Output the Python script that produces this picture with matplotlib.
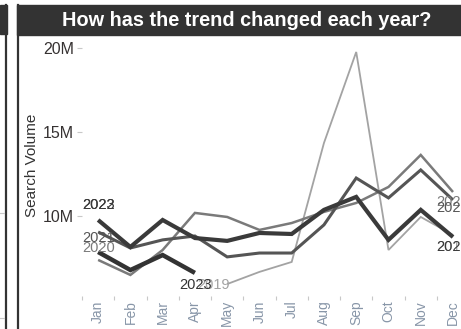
import numpy as np
import matplotlib
matplotlib.use("Agg")
import matplotlib.pyplot as plt
from matplotlib.patches import Rectangle
from matplotlib.lines import Line2D

plt.rcParams['font.family'] = ['Liberation Sans', 'DejaVu Sans']

months = ['Jan', 'Feb', 'Mar', 'Apr', 'May', 'Jun', 'Jul', 'Aug', 'Sep', 'Oct', 'Nov', 'Dec']

# monthly search volume, millions (2019 starts in May, 2023 stops in Apr)
vol_2019 = [None, None, None, None, 5.99, 6.71, 7.30, 14.36, 19.76, 8.01, 9.97, 8.90]
vol_2020 = [7.42, 6.53, 8.01, 10.21, 9.97, 9.20, 9.61, 10.27, 10.80, 11.75, 13.65, 11.45]
vol_2021 = [9.08, 8.13, 8.61, 8.84, 7.60, 7.83, 7.83, 9.50, 12.28, 11.10, 12.76, 10.98]
vol_2022 = [9.79, 8.19, 9.79, 8.72, 8.55, 9.02, 8.96, 10.39, 11.16, 8.61, 10.39, 8.78]
vol_2023 = [7.89, 6.82, 7.71, 6.65]

series = [
    ('2019', vol_2019, '#a3a3a3', 1.3),
    ('2020', vol_2020, '#7a7a7a', 1.8),
    ('2021', vol_2021, '#555555', 2.2),
    ('2022', vol_2022, '#3a3a3a', 3.0),
    ('2023', vol_2023, '#333333', 3.2),
]

W, H = 461, 329
fig = plt.figure(figsize=(W / 100, H / 100), dpi=100)

# dashboard frame: neighbouring panel edge, this panel's border and title bar
fig.patches.append(Rectangle((0, 1 - 34 / H), 7 / W, 29 / H, transform=fig.transFigure,
                             color='#333333', zorder=0))
fig.patches.append(Rectangle((17 / W, 1 - 35 / H), 444 / W, 30 / H, transform=fig.transFigure,
                             color='#333333', zorder=0))
for xp in (6, 18):
    fig.lines.append(Line2D([xp / W, xp / W], [0, 1 - 5 / H], transform=fig.transFigure,
                            color='#333333', lw=1.6))
for yp in (213, 318):
    fig.lines.append(Line2D([0, 4 / W], [1 - yp / H, 1 - yp / H], transform=fig.transFigure,
                            color='#c8c8c8', lw=0.8))

fig.text(247 / W, 1 - 20 / H, 'How has the trend changed each year?', color='white',
         fontsize=14.3, fontweight='bold', ha='center', va='center')

ax = fig.add_axes([82 / W, 33 / H, 379 / W, 256 / H])
for s in ax.spines.values():
    s.set_visible(False)

x = np.arange(len(months))
for year, vals, col, lw in series:
    v = np.array([np.nan if a is None else a for a in vals], dtype=float)
    ax.plot(x[:len(v)], v, color=col, lw=lw, solid_joinstyle='miter', solid_capstyle='butt')

ax.set_xlim(-0.496, 11.248)
ax.set_ylim(5.28, 20.47)

ax.set_yticks([10, 15, 20])
ax.set_yticklabels(['10M', '15M', '20M'])
ax.tick_params(axis='y', length=3.6, width=0.8, color='#c8c8c8', pad=2,
               labelsize=11.5, labelcolor='#363232')

ax.set_xticks(x)
ax.set_xticklabels(months, rotation=90, va='top')
ax.set_xticks(np.arange(-0.5, 11, 1), minor=True)
ax.tick_params(axis='x', which='major', length=0, pad=3, labelsize=10, labelcolor='#8896a8')
ax.tick_params(axis='x', which='minor', length=3, width=0.8, color='#c8c8c8')

fig.text(32 / W, 1 - 165 / H, 'Search Volume', rotation=90, ha='center', va='center',
         fontsize=11, color='#333333')

# series name labels at the line ends
lab = dict(fontsize=10.5, ha='center', va='center', clip_on=False)
ax.text(0, 10.7, '2023', color='#333333', **lab)
ax.text(0, 10.7, '2022', color='#3a3a3a', **lab)
ax.text(0, 8.75, '2021', color='#555555', **lab)
ax.text(0, 8.1, '2020', color='#7a7a7a', **lab)
ax.text(3.58, 5.94, '2019', color='#a3a3a3', **lab)
ax.text(3.03, 5.94, '2023', color='#333333', **lab)
ax.text(11, 10.85, '2020', color='#7a7a7a', **lab)
ax.text(11, 10.5, '2021', color='#555555', **lab)
ax.text(11, 8.2, '2019', color='#a3a3a3', **lab)
ax.text(11, 8.2, '2022', color='#3a3a3a', **lab)

fig.savefig('out.png', dpi=100)
